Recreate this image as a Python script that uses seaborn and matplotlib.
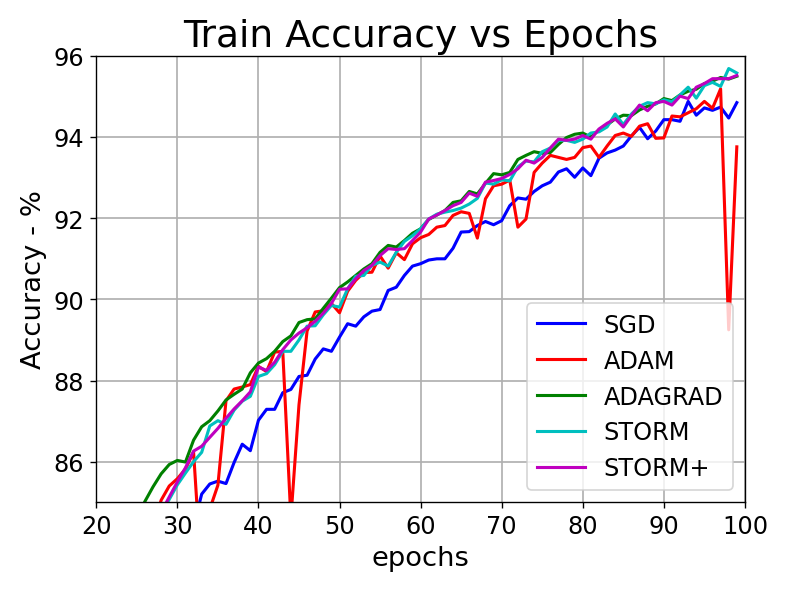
import matplotlib
matplotlib.use('Agg')
import matplotlib.pyplot as plt
import seaborn as sns

# epochs shown in the plot (earlier values lie below the y-limit)
epochs = list(range(25, 100))

sgd = [80.5, 81.3, 82.1, 82.8, 83.4, 83.8, 84.1, 84.4, 85.2, 85.45,
       85.52, 85.46, 85.98, 86.43, 86.27, 87.02, 87.29, 87.29, 87.7, 87.78,
       88.1, 88.13, 88.53, 88.78, 88.72, 89.07, 89.4, 89.34, 89.57, 89.71,
       89.75, 90.22, 90.3, 90.59, 90.82, 90.88, 90.97, 91.0, 91.0, 91.26,
       91.66, 91.67, 91.82, 91.92, 91.84, 91.94, 92.31, 92.5, 92.47, 92.66,
       92.8, 92.89, 93.14, 93.22, 93.01, 93.24, 93.05, 93.48, 93.61, 93.68,
       93.78, 94.03, 94.24, 93.96, 94.15, 94.43, 94.43, 94.39, 94.88, 94.54,
       94.72, 94.66, 94.74, 94.47, 94.85]

adam = [82.5, 83.3, 84.4, 85.05, 85.4, 85.58, 85.82, 86.24, 83.1, 84.83,
        85.42, 87.5, 87.79, 87.84, 87.9, 88.35, 88.22, 88.7, 88.72, 84.6,
        87.4, 89.22, 89.69, 89.72, 89.9, 89.67, 90.2, 90.47, 90.66, 90.67,
        91.07, 90.77, 91.15, 90.98, 91.37, 91.52, 91.6, 91.78, 91.82, 92.07,
        92.16, 92.12, 91.51, 92.48, 92.8, 92.84, 92.94, 91.78, 91.98, 93.13,
        93.36, 93.55, 93.5, 93.45, 93.5, 93.74, 93.78, 93.5, 93.78, 94.04,
        94.1, 94.02, 94.27, 94.33, 93.97, 93.98, 94.52, 94.5, 94.6, 94.7,
        94.88, 94.71, 95.19, 89.25, 93.76]

adagrad = [84.6, 85.02, 85.38, 85.7, 85.93, 86.03, 85.99, 86.53, 86.86, 87.01,
           87.25, 87.52, 87.66, 87.79, 88.19, 88.43, 88.54, 88.72, 88.96, 89.1,
           89.43, 89.5, 89.52, 89.78, 90.03, 90.29, 90.43, 90.59, 90.75, 90.88,
           91.16, 91.33, 91.29, 91.45, 91.63, 91.74, 91.97, 92.08, 92.19, 92.39,
           92.43, 92.66, 92.6, 92.86, 93.1, 93.07, 93.13, 93.45, 93.55, 93.64,
           93.6, 93.62, 93.82, 93.99, 94.07, 94.1, 94.0, 94.18, 94.3, 94.45,
           94.54, 94.53, 94.67, 94.76, 94.82, 94.95, 94.9, 95.04, 95.13, 95.18,
           95.32, 95.38, 95.47, 95.43, 95.5]

storm = [83.0, 83.6, 84.2, 84.72, 85.07, 85.43, 85.72, 86.0, 86.23, 86.88,
         87.01, 86.92, 87.27, 87.49, 87.61, 88.1, 88.17, 88.39, 88.72, 88.72,
         89.0, 89.34, 89.35, 89.62, 89.85, 89.81, 90.26, 90.57, 90.59, 90.84,
         90.92, 90.82, 91.16, 91.43, 91.57, 91.74, 91.98, 92.1, 92.15, 92.19,
         92.25, 92.35, 92.49, 92.87, 92.84, 92.95, 92.92, 93.27, 93.41, 93.39,
         93.64, 93.73, 93.92, 93.92, 93.87, 93.95, 94.1, 94.13, 94.25, 94.57,
         94.31, 94.57, 94.76, 94.85, 94.82, 94.92, 94.87, 95.04, 95.23, 94.96,
         95.27, 95.35, 95.25, 95.69, 95.58]

storm_plus = [83.2, 83.8, 84.3, 84.75, 85.13, 85.5, 85.85, 86.26, 86.38, 86.6,
              86.82, 87.07, 87.3, 87.5, 87.72, 88.33, 88.25, 88.45, 88.76, 89.0,
              89.17, 89.3, 89.46, 89.66, 89.9, 90.25, 90.26, 90.51, 90.71, 90.84,
              91.08, 91.25, 91.23, 91.25, 91.45, 91.66, 91.98, 92.08, 92.19, 92.31,
              92.39, 92.62, 92.54, 92.89, 92.93, 92.98, 93.08, 93.22, 93.43, 93.36,
              93.5, 93.73, 93.95, 93.92, 93.95, 94.04, 93.95, 94.2, 94.34, 94.45,
              94.25, 94.53, 94.79, 94.65, 94.85, 94.88, 94.79, 95.01, 94.95, 95.23,
              95.32, 95.44, 95.44, 95.44, 95.52]

series = [
    ('SGD', sgd, 'b'),
    ('ADAM', adam, 'r'),
    ('ADAGRAD', adagrad, 'g'),
    ('STORM', storm, 'c'),
    ('STORM+', storm_plus, 'm'),
]

fig, ax = plt.subplots(figsize=(6.4, 4.8), dpi=123.3)

for name, vals, col in series:
    sns.lineplot(x=epochs, y=vals, color=col, label=name, linewidth=1.8, ax=ax)

ax.set_xlim(20, 100)
ax.set_ylim(85, 96)
ax.set_xticks(range(20, 101, 10))
ax.set_yticks(range(86, 97, 2))
ax.grid(True, color='#b0b0b0', linewidth=1)
ax.tick_params(labelsize=14)

ax.set_title('Train Accuracy vs Epochs', fontsize=22)
ax.set_xlabel('epochs', fontsize=16)
ax.set_ylabel('Accuracy - %', fontsize=16)
ax.legend(loc='lower right', fontsize=14)

plt.subplots_adjust(left=0.122, right=0.944, top=0.904, bottom=0.150)
plt.savefig('out.png', dpi=123.3)
plt.close()
